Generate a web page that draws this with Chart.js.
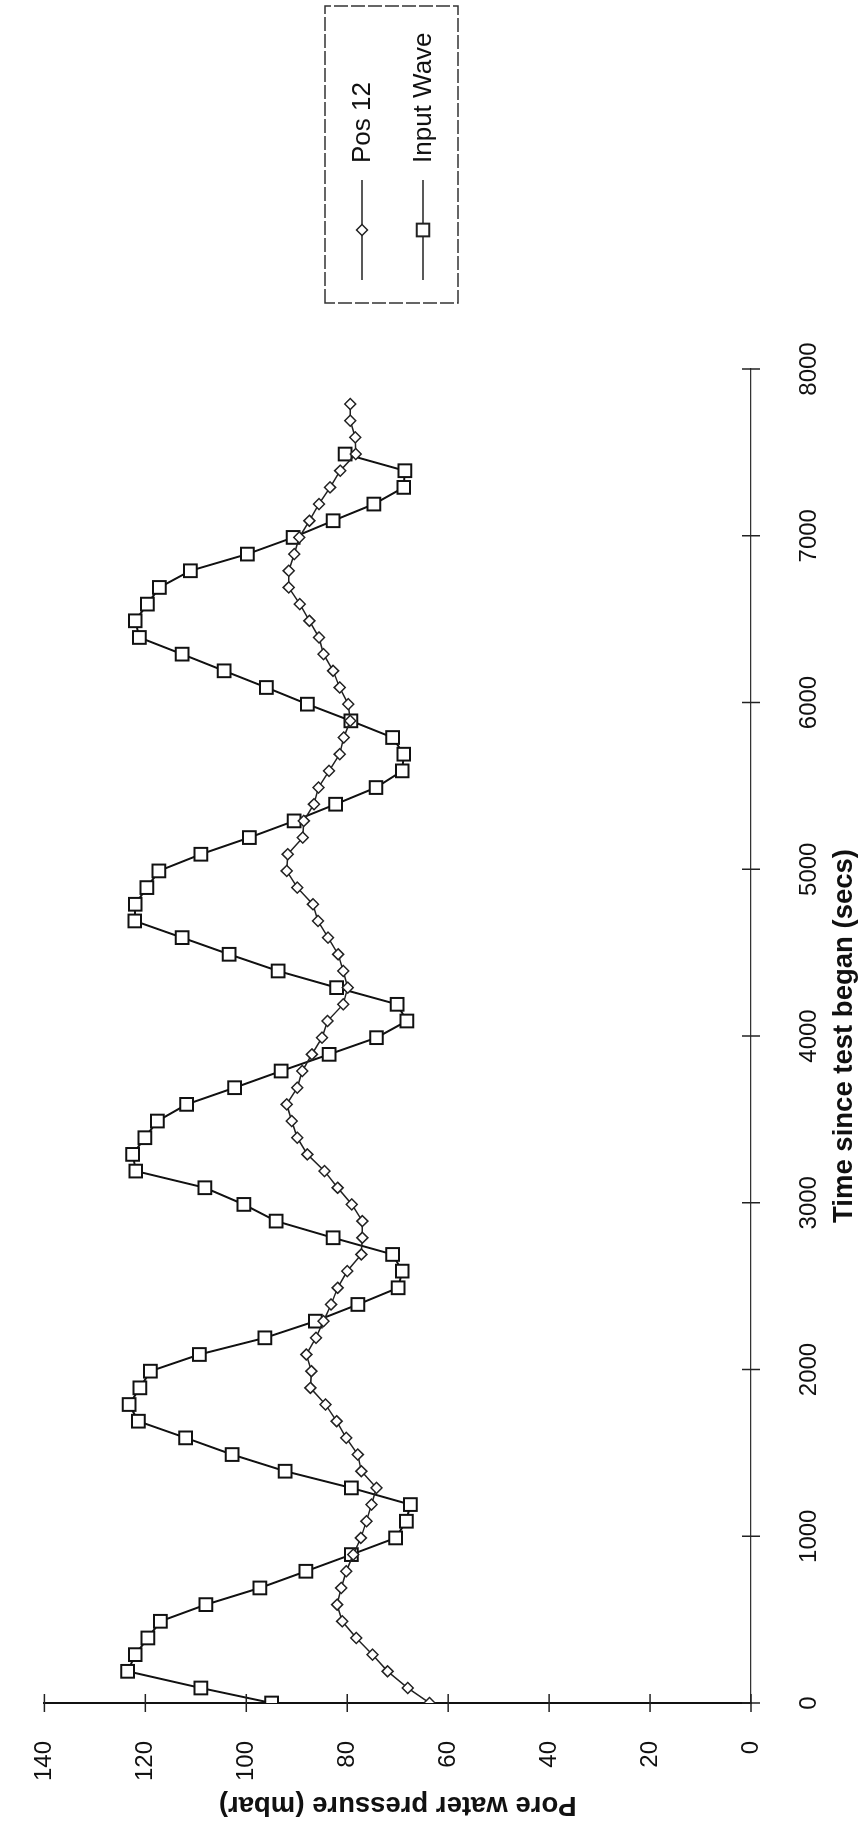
<!DOCTYPE html>
<html>
<head>
<meta charset="utf-8">
<script src="https://cdn.jsdelivr.net/npm/chart.js@4.4.0/dist/chart.umd.min.js"></script>
<style>
html, body { margin: 0; padding: 0; background: #fff; overflow: hidden; }
/* the chart is drawn landscape and turned a quarter turn, like the scanned page */
#wrap {
	position: absolute; left: 0; top: 0;
	width: 1824px; height: 863px;
	transform-origin: 0 0;
	transform: translate(0, 1824px) rotate(-90deg);
}
</style>
</head>
<body>
<div id="wrap"><canvas id="mycanvas" width="1824" height="863"></canvas></div>
<script>
var timeSecs = [0, 90, 190, 290, 390, 490, 590, 690, 790, 890,
	990, 1090, 1190, 1290, 1390, 1490, 1590, 1690, 1790, 1890,
	1990, 2090, 2190, 2290, 2390, 2490, 2590, 2690, 2790, 2890,
	2990, 3090, 3190, 3290, 3390, 3490, 3590, 3690, 3790, 3890,
	3990, 4090, 4190, 4290, 4390, 4490, 4590, 4690, 4790, 4890,
	4990, 5090, 5190, 5290, 5390, 5490, 5590, 5690, 5790, 5890,
	5990, 6090, 6190, 6290, 6390, 6490, 6590, 6690, 6790, 6890,
	6990, 7090, 7190, 7290, 7390, 7490, 7590, 7690, 7790];

var pos12 = [63.7, 68, 72, 75, 78.2, 81, 82, 81.2, 80.2, 78.8,
	77.3, 76.2, 75.2, 74.2, 77.2, 77.9, 80.2, 82.1, 84.3, 87.3,
	87.1, 88.1, 86.2, 84.7, 83.2, 81.9, 80.0, 77.2, 77.0, 77.0,
	79.1, 81.9, 84.5, 87.9, 89.9, 91.0, 92.0, 89.9, 88.9, 87.0,
	85.0, 83.9, 80.8, 79.9, 80.8, 81.8, 83.8, 85.8, 86.8, 89.9,
	92.0, 91.8, 88.8, 88.6, 86.6, 85.7, 83.6, 81.5, 80.7, 79.4,
	79.8, 81.5, 82.8, 84.7, 85.6, 87.5, 89.4, 91.6, 91.6, 90.5,
	89.5, 87.5, 85.6, 83.4, 81.4, 78.3, 78.4, 79.4, 79.4];

var inputWave = [95, 109, 123.5, 122, 119.5, 117, 108, 97.3, 88.2, 79.2,
	70.4, 68.3, 67.5, 79.2, 92.3, 102.8, 112, 121.4, 123.2, 121.1,
	119, 109.3, 96.3, 86.3, 77.9, 69.9, 69.1, 71.0, 82.8, 94.1,
	100.5, 108.2, 121.9, 122.5, 120.1, 117.6, 111.8, 102.3, 93.1, 83.6,
	74.2, 68.2, 70.1, 82.1, 93.7, 103.4, 112.7, 122.1, 122.0, 119.7,
	117.3, 109.0, 99.4, 90.5, 82.3, 74.3, 69.1, 68.8, 71.0, 79.3,
	87.9, 96.0, 104.4, 112.7, 121.2, 122.0, 119.6, 117.2, 111.1, 99.8,
	90.7, 82.8, 74.7, 68.8, 68.6, 80.4];

var seriesNames = ['Pos 12', 'Input Wave'];

function toPoints(values) {
	var pts = [];
	for (var i in values) {
		pts.push({x: timeSecs[i], y: values[i]});
	}
	return pts;
}

// plain numbers on the ticks, no thousands comma
function plainTick(value) {
	return String(value);
}

Chart.defaults.font.family = "'Liberation Sans', Arial, Helvetica, sans-serif";
Chart.defaults.color = '#111';

// Excel style ticks that cross the axis line
var crossTicks = {
	id: 'crossTicks',
	afterDraw: function(chart) {
		var c = chart.ctx;
		var xs = chart.scales.x, ys = chart.scales.y;
		c.save();
		c.strokeStyle = '#222';
		c.lineWidth = 1.5;
		xs.ticks.forEach(function(t) {
			var px = xs.getPixelForValue(t.value);
			c.beginPath();
			c.moveTo(px, xs.top - 9);
			c.lineTo(px, xs.top + 9);
			c.stroke();
		});
		ys.ticks.forEach(function(t) {
			var py = ys.getPixelForValue(t.value);
			c.beginPath();
			c.moveTo(ys.right - 9, py);
			c.lineTo(ys.right + 9, py);
			c.stroke();
		});
		c.restore();
	}
};

// boxed legend: line with marker, then the label
var boxLegend = {
	id: 'boxLegend',
	afterDraw: function(chart) {
		var c = chart.ctx;
		var left = chart.chartArea.right + 66;
		var top = 325, w = 297, h = 133;
		c.save();
		c.strokeStyle = '#333';
		c.lineWidth = 1.5;
		c.setLineDash([14, 3]);
		c.strokeRect(left, top, w, h);
		c.setLineDash([]);
		chart.data.datasets.forEach(function(ds, i) {
			var y = top + 37 + i * 61;
			var x0 = left + 23;
			c.strokeStyle = '#222';
			c.lineWidth = 1.5;
			c.beginPath();
			c.moveTo(x0, y);
			c.lineTo(x0 + 100, y);
			c.stroke();
			c.fillStyle = '#fff';
			c.lineWidth = ds.pointBorderWidth;
			Chart.helpers.drawPoint(c, {pointStyle: ds.pointStyle, radius: ds.pointRadius, borderWidth: ds.pointBorderWidth, rotation: 0}, x0 + 50, y);
			c.fillStyle = '#111';
			c.font = "26px 'Liberation Sans', Arial, sans-serif";
			c.textBaseline = 'middle';
			c.textAlign = 'left';
			c.fillText(ds.label, x0 + 117, y + 1);
		});
		c.restore();
	}
};

var chartdata = {
	datasets: [
		{
			label: seriesNames[0],
			data: toPoints(pos12),
			borderColor: '#222',
			borderWidth: 1.5,
			pointStyle: 'rectRot',
			pointRadius: 5.5,
			pointBorderWidth: 1.5,
			pointBorderColor: '#222',
			pointBackgroundColor: '#fff',
			tension: 0,
			fill: false
		},
		{
			label: seriesNames[1],
			data: toPoints(inputWave),
			borderColor: '#111',
			borderWidth: 2,
			pointStyle: 'rect',
			pointRadius: 9,
			pointBorderWidth: 2,
			pointBorderColor: '#111',
			pointBackgroundColor: '#fff',
			tension: 0,
			fill: false
		}
	]
};

var ctx = document.getElementById('mycanvas');

var lineGraph = new Chart(ctx, {
	type: 'line',
	data: chartdata,
	options: {
		responsive: false,
		animation: false,
		devicePixelRatio: 1,
		layout: { padding: { left: 0, right: 369, top: 23, bottom: 0 } },
		plugins: {
			legend: { display: false },
			tooltip: { enabled: false }
		},
		scales: {
			x: {
				type: 'linear',
				min: 0,
				max: 8000,
				ticks: { stepSize: 1000, padding: 36, maxRotation: 0, font: { size: 24 }, color: '#111', callback: plainTick },
				grid: { display: false },
				border: { display: true, color: '#333', width: 1.2, dash: [10, 3] },
				title: {
					display: true,
					text: 'Time since test began (secs)',
					font: { size: 27.5, weight: 'bold' },
					color: '#111',
					padding: { top: 0, bottom: 2 }
				},
				afterFit: function(scale) { scale.height = 112; }
			},
			y: {
				min: 0,
				max: 140,
				ticks: { stepSize: 20, padding: 30, font: { size: 24 }, color: '#111', callback: plainTick },
				grid: { display: false },
				border: { display: true, color: '#111', width: 2 },
				title: {
					display: true,
					text: 'Pore water pressure (mbar)',
					font: { size: 27.5, weight: 'bold' },
					color: '#111',
					padding: { top: 3, bottom: 0 }
				},
				afterFit: function(scale) { scale.width = 121; }
			}
		}
	},
	plugins: [crossTicks, boxLegend]
});
</script>
</body>
</html>
